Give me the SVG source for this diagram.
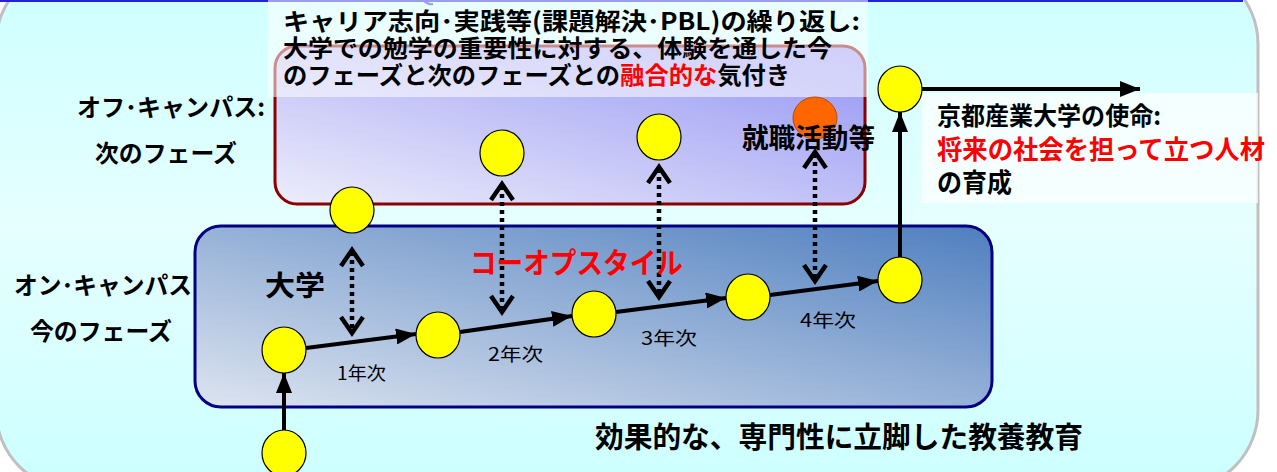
<svg xmlns="http://www.w3.org/2000/svg" width="1277" height="472" viewBox="0 0 1277 472">
<defs>
<linearGradient id="bg" x1="0" y1="0" x2="0" y2="1">
<stop offset="0" stop-color="#CCFFFF"/>
<stop offset="0.5" stop-color="#E6FFFF"/>
<stop offset="1" stop-color="#CCFFFF"/>
</linearGradient>
<linearGradient id="gUp" x1="0" y1="1" x2="1" y2="0">
<stop offset="0" stop-color="#EDEDFB"/>
<stop offset="1" stop-color="#9494F4"/>
</linearGradient>
<linearGradient id="gLow" x1="0" y1="1" x2="1" y2="0">
<stop offset="0" stop-color="#DDE4F0"/>
<stop offset="1" stop-color="#4F7FBF"/>
</linearGradient>
<marker id="ah" markerWidth="5" markerHeight="4" refX="5" refY="2" orient="auto" markerUnits="strokeWidth">
<path d="M0,0 L5,2 L0,4 Z" fill="#000"/>
</marker>
<style>
.jp{font-family:"Noto Sans CJK JP","Noto Sans",sans-serif;font-weight:bold;fill:#000}
.yr{font-family:"Noto Sans CJK JP","Noto Sans",sans-serif;font-weight:normal;font-size:18px;fill:#000}
.red{fill:#FF0000}
.node{fill:#FFFF00;stroke:#000;stroke-width:1.2}
.sol{stroke:#000;stroke-width:4;fill:none;marker-end:url(#ah)}
.dot{stroke:#000;stroke-width:4.5;fill:none;stroke-dasharray:4 4}
.chev{stroke:#000;stroke-width:4.5;fill:none;stroke-linejoin:miter}
</style>
</defs>
<g id="background">
<rect x="-4" y="-36" width="1262" height="526" rx="80" fill="url(#bg)" stroke="#C0C0C0" stroke-width="3"/>
<rect x="0" y="0" width="1243" height="2" fill="#2222DD"/>
<path d="M424,1 Q428,5 433,4" stroke="#2222DD" stroke-width="2" fill="none"/>
</g>
<g id="box-off">
<rect x="275" y="46" width="590" height="158" rx="22" fill="url(#gUp)" stroke="#8B0000" stroke-width="3"/>
</g>
<g id="box-on">
<rect x="195" y="226" width="797" height="181" rx="26" fill="url(#gLow)" stroke="#000080" stroke-width="3"/>
</g>
<g id="text-bg">
<rect x="268" y="0" width="600" height="97" fill="#FFFFFF" fill-opacity="0.55"/>
<rect x="922" y="93" width="336" height="110" fill="#FFFFFF" fill-opacity="0.7"/>
</g>
<g id="connectors">
<line class="sol" x1="284" y1="430" x2="284" y2="373"/>
<line class="sol" x1="306" y1="348" x2="416" y2="334"/>
<line class="sol" x1="460" y1="332" x2="572" y2="316"/>
<line class="sol" x1="616" y1="312" x2="726" y2="298"/>
<line class="sol" x1="770" y1="295" x2="878" y2="281"/>
<line class="sol" x1="900" y1="258" x2="900" y2="112"/>
<line class="sol" x1="922" y1="89" x2="1140" y2="89"/>
<line class="dot" x1="352" y1="252" x2="352" y2="330"/>
<path class="chev" d="M341,266 L352,250 L363,266 M341,317 L352,333 L363,317"/>
<line class="dot" x1="502" y1="186" x2="502" y2="309"/>
<path class="chev" d="M491,200 L502,184 L513,200 M491,296 L502,312 L513,296"/>
<line class="dot" x1="659" y1="169" x2="659" y2="294"/>
<path class="chev" d="M648,183 L659,167 L670,183 M648,281 L659,297 L670,281"/>
<line class="dot" x1="815" y1="154" x2="815" y2="278"/>
<path class="chev" d="M804,168 L815,152 L826,168 M804,265 L815,281 L826,265"/>
</g>
<g id="n0"><ellipse class="node" cx="284" cy="453" rx="22" ry="23"/></g>
<g id="n1"><ellipse class="node" cx="284" cy="350" rx="22" ry="23"/></g>
<g id="n2"><ellipse class="node" cx="438" cy="335" rx="22" ry="23"/></g>
<g id="n3"><ellipse class="node" cx="594" cy="314" rx="22" ry="23"/></g>
<g id="n4"><ellipse class="node" cx="748" cy="297" rx="22" ry="23"/></g>
<g id="n5"><ellipse class="node" cx="900" cy="280" rx="22" ry="23"/></g>
<g id="n6"><ellipse class="node" cx="352" cy="210" rx="22" ry="23"/></g>
<g id="n7"><ellipse class="node" cx="502" cy="153" rx="22" ry="23"/></g>
<g id="n8"><ellipse class="node" cx="659" cy="137" rx="22" ry="23"/></g>
<g id="n-job"><ellipse cx="815" cy="118" rx="22" ry="21" fill="#FF6600" stroke="#B84A00" stroke-width="1"/></g>
<g id="n9"><ellipse class="node" cx="900" cy="89" rx="22" ry="23"/></g>
<g id="labels">
<text class="jp" x="283" y="30" font-size="24" textLength="577" lengthAdjust="spacingAndGlyphs">キャリア志向･実践等(課題解決･PBL)の繰り返し:</text>
<text class="jp" x="283" y="57" font-size="24" textLength="549" lengthAdjust="spacingAndGlyphs">大学での勉学の重要性に対する、体験を通した今</text>
<text class="jp" x="283" y="84" font-size="24" textLength="507" lengthAdjust="spacingAndGlyphs">のフェーズと次のフェーズとの<tspan class="red">融合的な</tspan>気付き</text>
<text class="jp" x="77" y="116" font-size="24" textLength="188" lengthAdjust="spacingAndGlyphs">オフ･キャンパス:</text>
<text class="jp" x="95" y="162" font-size="24" textLength="142" lengthAdjust="spacingAndGlyphs">次のフェーズ</text>
<text class="jp" x="14" y="294" font-size="24" textLength="178" lengthAdjust="spacingAndGlyphs">オン･キャンパス</text>
<text class="jp" x="30" y="340" font-size="24" textLength="142" lengthAdjust="spacingAndGlyphs">今のフェーズ</text>
<text class="jp" x="265" y="296" font-size="28" textLength="60" lengthAdjust="spacingAndGlyphs">大学</text>
<text class="jp red" x="470" y="274" font-size="29" textLength="213" lengthAdjust="spacingAndGlyphs">コーオプスタイル</text>
<text class="jp" x="742" y="148" font-size="27" textLength="133" lengthAdjust="spacingAndGlyphs">就職活動等</text>
<text class="jp" x="937" y="125" font-size="25" textLength="224" lengthAdjust="spacingAndGlyphs">京都産業大学の使命:</text>
<text class="jp red" x="937" y="159" font-size="26" textLength="328" lengthAdjust="spacingAndGlyphs">将来の社会を担って立つ人材</text>
<text class="jp" x="937" y="192" font-size="26" textLength="75" lengthAdjust="spacingAndGlyphs">の育成</text>
<text class="jp" x="595" y="448" font-size="29" textLength="488" lengthAdjust="spacingAndGlyphs">効果的な、専門性に立脚した教養教育</text>
<text class="yr" x="337" y="380" textLength="49" lengthAdjust="spacingAndGlyphs">1年次</text>
<text class="yr" x="488" y="361" textLength="55" lengthAdjust="spacingAndGlyphs">2年次</text>
<text class="yr" x="641" y="345" textLength="56" lengthAdjust="spacingAndGlyphs">3年次</text>
<text class="yr" x="800" y="327" textLength="56" lengthAdjust="spacingAndGlyphs">4年次</text>
</g>
</svg>
